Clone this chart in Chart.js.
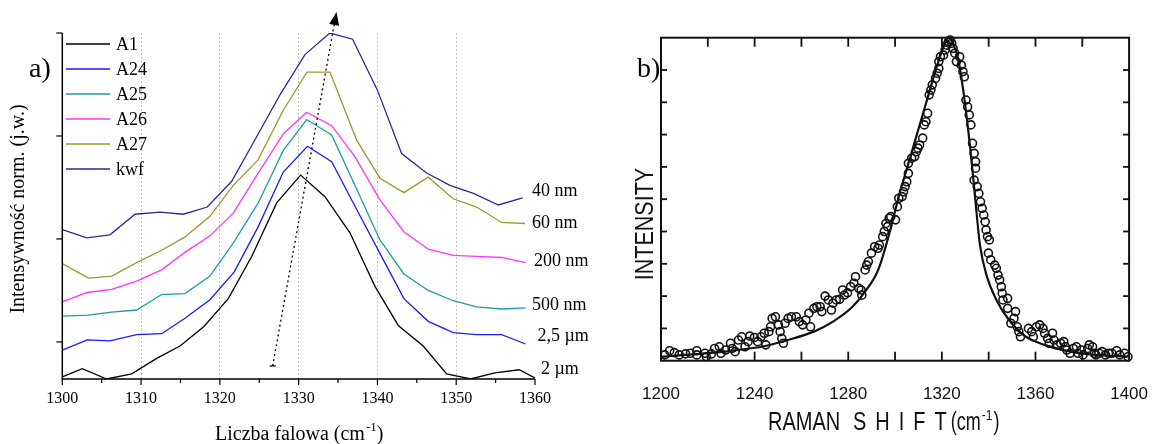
<!DOCTYPE html>
<html>
<head>
<meta charset="utf-8">
<script src="https://cdn.jsdelivr.net/npm/chart.js@4.4.1/dist/chart.umd.min.js"></script>
<style>
  body { margin: 0; background: #fff; width: 1171px; height: 444px; overflow: hidden; position: relative; }
  canvas { position: absolute; top: 0; }
  #chartA { left: 0; }
  #chartB { left: 590px; }
</style>
</head>
<body>
<canvas id="chartA" width="590" height="444"></canvas>
<canvas id="chartB" width="581" height="444"></canvas>
<script>
// ---- panel a) data (wavenumber, normalized intensity) ----
var xA1 = [1300, 1302.54, 1305.63, 1308.81, 1311.98, 1314.94, 1317.98, 1321.07, 1324.04, 1327.21, 1330.25, 1333.34, 1336.51, 1339.69, 1342.64, 1345.81, 1348.78, 1351.83, 1354.91, 1358.0, 1360];
var yA1 = [-0.34, -0.26, -0.36, -0.31, -0.16, -0.04, 0.15, 0.42, 0.83, 1.35, 1.62, 1.41, 1.06, 0.54, 0.16, -0.04, -0.31, -0.36, -0.30, -0.27, -0.35];
var xA24 = [1300, 1303.17, 1306.05, 1309.44, 1312.61, 1315.57, 1318.74, 1321.83, 1324.87, 1328.05, 1331.12, 1334.19, 1337.27, 1340.38, 1343.36, 1346.45, 1349.62, 1352.59, 1355.76, 1358.81];
var yA24 = [-0.08, 0.02, 0.01, 0.07, 0.08, 0.23, 0.41, 0.68, 1.12, 1.65, 1.90, 1.75, 1.30, 0.85, 0.42, 0.20, 0.09, 0.07, 0.07, -0.02];
var xA25 = [1300, 1303.30, 1306.27, 1309.44, 1312.61, 1315.57, 1318.74, 1321.70, 1324.87, 1328.05, 1331.02, 1334.19, 1337.27, 1340.32, 1343.36, 1346.45, 1349.62, 1352.59, 1355.76, 1358.81];
var yA25 = [0.25, 0.26, 0.29, 0.31, 0.46, 0.47, 0.64, 0.96, 1.35, 1.86, 2.16, 2.01, 1.50, 0.99, 0.66, 0.50, 0.40, 0.34, 0.32, 0.33];
var xA26 = [1300, 1303.17, 1306.27, 1309.44, 1312.61, 1315.57, 1318.74, 1321.70, 1324.87, 1328.05, 1331.02, 1334.19, 1337.14, 1340.32, 1343.36, 1346.45, 1349.62, 1352.59, 1355.76, 1358.81];
var yA26 = [0.39, 0.48, 0.51, 0.59, 0.70, 0.87, 1.03, 1.25, 1.64, 2.02, 2.23, 2.10, 1.80, 1.38, 1.07, 0.90, 0.84, 0.83, 0.82, 0.77];
var xA27 = [1300, 1303.30, 1306.27, 1309.44, 1312.61, 1315.57, 1318.74, 1321.70, 1324.87, 1328.05, 1331.05, 1333.97, 1337.36, 1340.32, 1343.36, 1346.45, 1349.62, 1352.59, 1355.76, 1358.72];
var yA27 = [0.76, 0.62, 0.64, 0.77, 0.89, 1.02, 1.22, 1.52, 1.77, 2.25, 2.62, 2.62, 1.96, 1.59, 1.45, 1.60, 1.39, 1.31, 1.16, 1.15];
var xKwf = [1300, 1303.10, 1306.05, 1309.23, 1312.40, 1315.36, 1318.40, 1321.50, 1324.58, 1327.63, 1330.80, 1333.97, 1336.85, 1339.97, 1343.07, 1346.24, 1349.20, 1352.28, 1355.33, 1358.43];
var yKwf = [1.09, 1.01, 1.04, 1.24, 1.26, 1.24, 1.31, 1.56, 1.98, 2.40, 2.79, 3.00, 2.94, 2.45, 1.83, 1.64, 1.52, 1.44, 1.33, 1.40];

var seriesNames = ['A1', 'A24', 'A25', 'A26', 'A27', 'kwf'];
var sizeLabels = ['2 µm', '2,5 µm', '500 nm', '200 nm', '60 nm', '40 nm'];
var xTickLabels = [1300, 1310, 1320, 1330, 1340, 1350, 1360];
var yTicksA = [0, 1, 2, 3];
var arrowStart = [1326.7, -0.233];
var arrowEnd = [1334.8, 3.204];

// ---- panel b) data (Raman shift, intensity) ----
var fitX = [1200.3, 1210.6, 1221.4, 1232.4, 1243.5, 1254.2, 1265.3, 1273.5, 1281.7, 1287.1, 1292.8, 1298.2, 1301.4, 1306.4, 1313.4, 1318.7, 1321.6, 1322.8, 1324.4, 1326.9, 1329.4, 1331.4, 1333.1, 1334.3, 1336.3, 1339.2, 1343.3, 1348.7, 1355.7, 1363.9, 1375.0, 1385.6, 1399.6];
var fitY = [0.12, 0.18, 0.24, 0.33, 0.44, 0.64, 0.90, 1.21, 1.66, 2.13, 2.81, 4.11, 5.03, 6.28, 8.01, 9.31, 9.87, 10.0, 9.87, 9.37, 8.23, 7.05, 5.90, 4.98, 3.58, 2.62, 1.88, 1.26, 0.75, 0.49, 0.28, 0.18, 0.13];
var ramanX = [1201.6, 1203.7, 1205.7, 1207.8, 1210.5, 1212.6, 1215.3, 1215.3, 1218.8, 1219.4, 1221.5, 1222.9, 1224.9, 1225.6, 1227.6, 1229.7, 1230.4, 1231.7, 1233.1, 1234.5, 1235.9, 1237.2, 1237.9, 1239.9, 1241.3, 1242.7, 1244.1, 1244.8, 1246.1, 1246.8, 1247.5, 1248.9, 1250.2, 1250.9, 1251.6, 1252.3, 1253.0, 1254.3, 1255.7, 1257.8, 1259.1, 1260.5, 1261.9, 1263.2, 1263.9, 1265.3, 1266.6, 1268.0, 1268.7, 1270.1, 1271.5, 1272.8, 1273.5, 1274.9, 1276.3, 1277.6, 1278.3, 1279.7, 1281.0, 1282.4, 1283.1, 1284.5, 1285.5, 1285.8, 1287.2, 1287.9, 1288.6, 1289.9, 1291.3, 1292.7, 1293.3, 1294.7, 1295.4, 1296.8, 1297.5,
  1296.1, 1298.2, 1300.2, 1301.0, 1301.6, 1303.0, 1303.6, 1304.3, 1305.0, 1305.7, 1305.7, 1307.1, 1308.4, 1309.1, 1309.8, 1310.5, 1311.8, 1312.5, 1313.2, 1313.9, 1314.6, 1315.3, 1315.9, 1317.3, 1318.0, 1318.7, 1318.7, 1319.4, 1320.7, 1321.4, 1322.1, 1322.8, 1323.5, 1324.2, 1324.8, 1325.5, 1326.2, 1327.6, 1328.3, 1329.0, 1329.6, 1330.3, 1331.0, 1331.7, 1332.4, 1333.1, 1333.8, 1334.4, 1334.4,
  1333.8, 1335.1, 1335.8, 1336.5, 1337.2, 1337.9, 1338.5, 1338.9, 1339.5, 1340.3, 1339.9, 1340.9, 1342.6, 1343.3, 1344.0, 1344.7, 1345.4, 1345.8, 1346.1, 1348.1, 1348.1, 1349.5, 1350.8, 1351.5, 1352.2, 1352.9, 1353.6, 1357.0, 1358.4, 1359.1, 1360.4, 1361.8, 1363.2, 1363.9, 1365.2, 1365.9, 1367.3, 1367.9, 1369.3, 1370.7, 1372.1, 1372.8, 1373.4, 1374.8, 1376.2, 1377.5, 1378.2, 1379.6, 1380.3, 1382.3, 1383.0, 1384.4, 1385.1, 1385.8, 1387.1, 1388.5, 1389.9, 1391.2, 1392.6, 1394.7, 1396.0, 1398.1, 1399.5];
var ramanY = [0.18, 0.31, 0.25, 0.18, 0.21, 0.23, 0.31, 0.18, 0.23, 0.12, 0.21, 0.38, 0.43, 0.23, 0.33, 0.54, 0.38, 0.28, 0.64, 0.74, 0.43, 0.59, 0.76, 0.72, 0.59, 0.74, 0.85, 0.49, 0.90, 1.05, 1.31, 1.36, 1.11, 0.90, 0.69, 0.54, 1.16, 1.31, 1.36, 1.36, 1.21, 1.11, 1.26, 1.47, 1.05, 1.62, 1.67, 1.67, 1.52, 2.00, 1.88, 1.57, 1.78, 1.88, 1.90, 2.19, 2.03, 2.10, 2.29, 2.40, 2.60, 2.24, 2.19, 2.03, 2.81, 2.96, 3.07, 3.33, 3.53, 3.48, 3.58, 3.84, 4.00, 4.15, 4.41,
  4.25, 4.46, 4.36, 4.77, 5.03, 5.08, 5.23, 5.39, 5.54, 5.80, 6.11, 6.27, 6.32, 6.47, 6.58, 6.68, 6.89, 7.30, 7.40, 7.66, 8.23, 8.38, 8.54, 8.74, 8.90, 9.05, 9.26, 9.41, 9.46, 9.62, 9.77, 9.88, 9.93, 9.83, 9.67, 9.52, 9.26, 9.41, 9.15, 8.95, 8.79, 8.07, 7.86, 7.61, 7.30, 6.73, 6.42, 6.16, 5.96,
  5.59, 5.39, 5.18, 4.92, 4.72, 4.51, 4.30, 4.05, 3.84, 3.74, 3.33, 3.12, 2.96, 2.86, 2.65, 2.50, 2.29, 2.09, 1.88, 1.93, 1.62, 1.16, 1.31, 1.52, 1.05, 0.90, 0.74, 1.00, 0.90, 0.74, 1.05, 1.11, 1.00, 0.85, 0.69, 0.54, 0.85, 0.64, 0.49, 0.54, 0.59, 0.43, 0.33, 0.23, 0.38, 0.43, 0.23, 0.33, 0.18, 0.38, 0.49, 0.43, 0.23, 0.18, 0.23, 0.28, 0.18, 0.23, 0.23, 0.31, 0.18, 0.23, 0.12];
var xTicksB = [1200, 1240, 1280, 1320, 1360, 1400];

// styles
var seriesColors = ['#000000', '#1a1aff', '#1f9c9c', '#ff33ff', '#9a9a28', '#2b2b96'];
var labelDx = [6, 2.5, -3, -1, -3, -3];
var labelDy = [-9, -8, -2.5, -1.5, -0.5, -6.5];
var serif = '"Liberation Serif", "Times New Roman", serif';
var sans = '"Liberation Sans", Arial, sans-serif';

function pts(xs, ys) {
  return xs.map(function (v, i) { return { x: v, y: ys[i] }; });
}

function line(ctx, x1, y1, x2, y2) {
  ctx.beginPath(); ctx.moveTo(x1, y1); ctx.lineTo(x2, y2); ctx.stroke();
}

// draw horizontally squeezed text, returns drawn width
function squeezed(ctx, txt, x, y, k, spacing) {
  ctx.save();
  ctx.translate(x, y);
  ctx.scale(k, 1);
  var w = 0;
  if (spacing) {
    for (var i = 0; i < txt.length; i++) {
      ctx.fillText(txt[i], w, 0);
      w += ctx.measureText(txt[i]).width + (i < txt.length - 1 ? spacing / k : 0);
    }
  } else {
    ctx.fillText(txt, 0, 0);
    w = ctx.measureText(txt).width;
  }
  ctx.restore();
  return w * k;
}

var xSeries = [xA1, xA24, xA25, xA26, xA27, xKwf];
var ySeries = [yA1, yA24, yA25, yA26, yA27, yKwf];

//------------- panel a -------------
var panelA = {
  id: 'panelA',
  afterDraw: function (chart) {
    var ctx = chart.ctx, ca = chart.chartArea, sx = chart.scales.x, sy = chart.scales.y;
    ctx.save();
    ctx.strokeStyle = '#000';
    ctx.fillStyle = '#000';
    ctx.lineWidth = 1.5;
    // axes
    line(ctx, ca.left, ca.top, ca.left, ca.bottom + 0.75);
    line(ctx, ca.left - 0.75, ca.bottom, ca.right, ca.bottom);
    ctx.lineWidth = 1.2;
    for (var v = 1300; v <= 1360; v += 5) {
      var px = sx.getPixelForValue(v);
      line(ctx, px, ca.bottom, px, ca.bottom + (v % 10 === 0 ? 6 : 4));
    }
    yTicksA.forEach(function (t) {
      var py = sy.getPixelForValue(t);
      line(ctx, ca.left - 6, py, ca.left, py);
    });

    // legend
    ctx.font = '18px ' + serif;
    ctx.textBaseline = 'middle';
    ctx.textAlign = 'left';
    seriesNames.forEach(function (n, i) {
      var yy = 44 + i * 25;
      ctx.strokeStyle = seriesColors[i];
      ctx.lineWidth = 1.4;
      line(ctx, 66, yy, 110, yy);
      ctx.fillText(n, 116, yy + 1);
    });

    // size labels at curve ends
    sizeLabels.forEach(function (s, i) {
      var ys = ySeries[i];
      var py = sy.getPixelForValue(ys[ys.length - 1]);
      ctx.fillText(s, ca.right + labelDx[i], py + labelDy[i]);
    });

    // dotted arrow
    var x0 = sx.getPixelForValue(arrowStart[0]), y0 = sy.getPixelForValue(arrowStart[1]);
    var x1 = sx.getPixelForValue(arrowEnd[0]), y1 = sy.getPixelForValue(arrowEnd[1]);
    var dx = x1 - x0, dy = y1 - y0, len = Math.sqrt(dx * dx + dy * dy);
    var ux = dx / len, uy = dy / len;
    var bx = x1 - ux * 13, by = y1 - uy * 13;
    ctx.strokeStyle = '#000';
    ctx.lineWidth = 1.3;
    ctx.setLineDash([2, 3]);
    line(ctx, x0, y0, bx, by);
    ctx.setLineDash([]);
    line(ctx, x0 - 3, y0, x0 + 3, y0);
    ctx.beginPath();
    ctx.moveTo(x1, y1);
    ctx.lineTo(bx - uy * 5, by + ux * 5);
    ctx.lineTo(bx + uy * 5, by - ux * 5);
    ctx.closePath();
    ctx.fill();

    // titles
    ctx.textBaseline = 'alphabetic';
    ctx.font = '20px ' + serif;
    var t1 = 'Liczba falowa (cm';
    var tx = 215;
    ctx.fillText(t1, tx, 440);
    tx += ctx.measureText(t1).width + 1;
    ctx.font = '13px ' + serif;
    ctx.fillText('-1', tx, 431);
    tx += ctx.measureText('-1').width;
    ctx.font = '20px ' + serif;
    ctx.fillText(')', tx, 440);

    ctx.save();
    ctx.translate(24, 209);
    ctx.rotate(-Math.PI / 2);
    ctx.textAlign = 'center';
    ctx.fillText('Intensywność norm. (j.w.)', 0, 0);
    ctx.restore();

    ctx.font = '28px ' + serif;
    ctx.fillText('a)', 29, 77);
    ctx.restore();
  }
};

new Chart(document.getElementById('chartA'), {
  type: 'line',
  data: {
    datasets: seriesNames.map(function (n, i) {
      return {
        label: n,
        data: pts(xSeries[i], ySeries[i]),
        borderColor: seriesColors[i],
        borderWidth: 1.3,
        pointRadius: 0,
        tension: 0,
        fill: false
      };
    })
  },
  options: {
    responsive: false,
    animation: false,
    devicePixelRatio: 1,
    layout: { padding: { left: 62.3, right: 55, top: 33, bottom: 0 } },
    plugins: { legend: { display: false }, tooltip: { enabled: false } },
    scales: {
      x: {
        type: 'linear', min: 1300, max: 1360,
        afterFit: function (s) { s.height = 65; },
        ticks: {
          stepSize: 5, color: '#000', padding: 10,
          font: { family: serif, size: 16 },
          maxRotation: 0, autoSkip: false,
          callback: function (v) { return xTickLabels.indexOf(v) >= 0 ? v : ''; }
        },
        grid: {
          drawTicks: false,
          color: function (c) {
            var v = c.tick && c.tick.value;
            return (v % 10 === 0 && v > 1300 && v < 1360) ? '#c4c4c4' : 'rgba(0,0,0,0)';
          },
          lineWidth: 1
        },
        border: { display: false, dash: [2, 2] }
      },
      y: { display: false, min: -0.36, max: 3 }
    }
  },
  plugins: [panelA]
});

//------------- panel b -------------
var panelB = {
  id: 'panelB',
  afterDraw: function (chart) {
    var ctx = chart.ctx, ca = chart.chartArea, sx = chart.scales.x, sy = chart.scales.y;
    ctx.save();
    ctx.strokeStyle = '#111';
    ctx.fillStyle = '#111';
    ctx.lineWidth = 2;
    ctx.strokeRect(ca.left, ca.top, ca.right - ca.left, ca.bottom - ca.top);
    ctx.lineWidth = 1.8;
    for (var v = 1220; v < 1400; v += 20) {
      var px = sx.getPixelForValue(v);
      line(ctx, px, ca.bottom, px, ca.bottom - 9);
      line(ctx, px, ca.top, px, ca.top + 9);
    }
    for (var t = 1; t < 10; t++) {
      var py = sy.getPixelForValue(t);
      line(ctx, ca.left, py, ca.left + 6, py);
      line(ctx, ca.right, py, ca.right - 6, py);
    }

    ctx.textBaseline = 'alphabetic';
    ctx.textAlign = 'left';
    ctx.font = '25px ' + sans;
    squeezed(ctx, 'RAMAN', 178, 430, 0.8);
    var tx = 263;
    tx += squeezed(ctx, 'SHIFT', tx, 430, 0.8, 9);
    tx += 4;
    tx += squeezed(ctx, '(cm', tx, 430, 0.72);
    ctx.font = '15px ' + sans;
    tx += squeezed(ctx, '-1', tx + 1, 420, 0.8) + 2;
    ctx.font = '25px ' + sans;
    squeezed(ctx, ')', tx, 430, 0.72);

    ctx.save();
    ctx.translate(63, 224);
    ctx.rotate(-Math.PI / 2);
    ctx.textAlign = 'center';
    ctx.scale(0.86, 1);
    ctx.fillText('INTENSITY', 0, 0);
    ctx.restore();

    ctx.fillStyle = '#000';
    ctx.font = '28px ' + serif;
    ctx.fillText('b)', 47, 77);
    ctx.restore();
  }
};

new Chart(document.getElementById('chartB'), {
  type: 'scatter',
  data: {
    datasets: [
      {
        type: 'line',
        data: pts(fitX, fitY),
        borderColor: '#111',
        borderWidth: 2.2,
        pointRadius: 0,
        cubicInterpolationMode: 'monotone',
        fill: false
      },
      {
        data: pts(ramanX, ramanY),
        pointStyle: 'circle',
        pointRadius: 4,
        borderWidth: 1.6,
        borderColor: '#111',
        backgroundColor: 'rgba(0,0,0,0)',
        clip: false
      }
    ]
  },
  options: {
    responsive: false,
    animation: false,
    devicePixelRatio: 1,
    layout: { padding: { left: 71, right: 23, top: 37.7, bottom: 0 } },
    plugins: { legend: { display: false }, tooltip: { enabled: false } },
    scales: {
      x: {
        type: 'linear', min: 1200, max: 1400,
        afterFit: function (s) { s.height = 83.3; },
        ticks: {
          stepSize: 20, color: '#111', padding: 23,
          font: { family: sans, size: 17 },
          maxRotation: 0, autoSkip: false,
          callback: function (v) { return xTicksB.indexOf(v) >= 0 ? v : ''; }
        },
        grid: { display: false, drawTicks: false },
        border: { display: false }
      },
      y: { display: false, min: 0, max: 10 }
    }
  },
  plugins: [panelB]
});
</script>
</body>
</html>
